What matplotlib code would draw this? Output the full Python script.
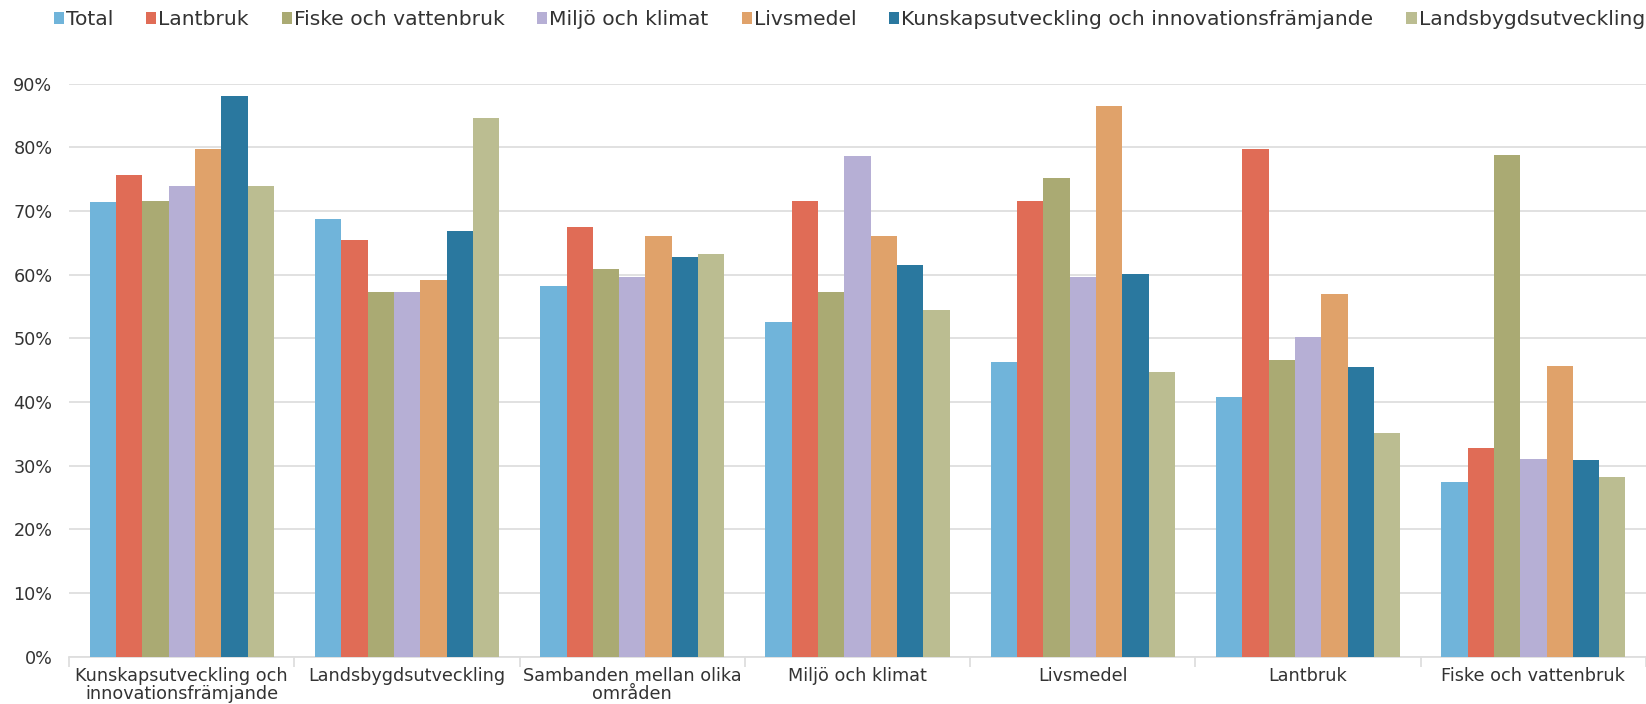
import numpy as np
import matplotlib.pyplot as plt
from matplotlib.patches import Patch

plt.rcParams['font.family'] = ['DejaVu Sans']

# kategorier på x-axeln
categories = ["Kunskapsutveckling och\ninnovationsfrämjande", "Landsbygdsutveckling",
              "Sambanden mellan olika\nområden", "Miljö och klimat", "Livsmedel",
              "Lantbruk", "Fiske och vattenbruk"]

series_names = ["Total", "Lantbruk", "Fiske och vattenbruk", "Miljö och klimat",
                "Livsmedel", "Kunskapsutveckling och innovationsfrämjande",
                "Landsbygdsutveckling"]

total = [71.5, 68.7, 58.2, 52.6, 46.3, 40.8, 27.4]
lantbruk = [75.7, 65.5, 67.5, 71.6, 71.6, 79.8, 32.8]
fiske = [71.6, 57.3, 60.9, 57.3, 75.2, 46.6, 78.8]
miljo = [74.0, 57.3, 59.7, 78.7, 59.7, 50.2, 31.1]
livsmedel = [79.7, 59.2, 66.1, 66.1, 86.5, 57.0, 45.6]
kunskap = [88.1, 66.8, 62.8, 61.5, 60.1, 45.5, 30.9]
landsbygd = [74.0, 84.7, 63.2, 54.5, 44.8, 35.1, 28.3]

colors = ["#70B4DA", "#E06C56", "#AAAA73", "#B6AFD5", "#E0A26A", "#2A789F", "#BBBD91"]

series = [total, lantbruk, fiske, miljo, livsmedel, kunskap, landsbygd]

fig = plt.figure(figsize=(16.46, 7.04), dpi=100)
ax = fig.add_axes([0.042, 0.067, 0.958, 0.814])

x = np.arange(len(categories))
n = len(series)
w = 1 / (n + 1.56)
for i, (vals, c) in enumerate(zip(series, colors)):
    ax.bar(x + (i - (n - 1) / 2) * w, np.array(vals) / 100, width=w, color=c, zorder=3)

fs = 12.7
ax.set_xlim(-0.5, len(categories) - 0.5)
ax.set_ylim(0, 0.9)
ax.set_yticks(np.arange(0, 0.91, 0.1))
ax.set_yticklabels([f"{int(round(v * 100))}%" for v in np.arange(0, 0.91, 0.1)])
ax.yaxis.grid(True, color="#DEDEDE", lw=1.3, zorder=0)
ax.tick_params(axis="y", length=0, labelsize=fs, colors="#333333", pad=12)

ax.set_xticks(x)
ax.set_xticklabels(categories, fontsize=fs, color="#333333", linespacing=1.0)
ax.tick_params(axis="x", length=0, pad=7)
ax.set_xticks(np.arange(-0.5, len(categories)), minor=True)
ax.tick_params(axis="x", which="minor", length=7, color="#DEDEDE", width=1.3)

for s in ["top", "right", "left"]:
    ax.spines[s].set_visible(False)
ax.spines["bottom"].set_color("#DEDEDE")
ax.spines["bottom"].set_linewidth(1.3)

handles = [Patch(facecolor=c, label=l) for c, l in zip(colors, series_names)]
fig.legend(handles=handles, loc="center left", bbox_to_anchor=(0.0215, 0.972), ncol=7,
           frameon=False, fontsize=14.6, handlelength=0.5, handleheight=0.5,
           handletextpad=0.1, columnspacing=1.62, labelcolor="#333333")

fig.savefig("out.png", dpi=100)
